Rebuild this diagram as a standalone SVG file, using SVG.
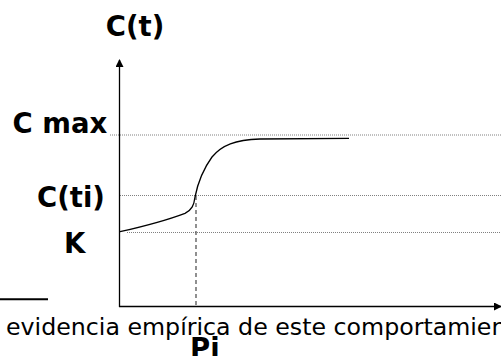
<svg xmlns="http://www.w3.org/2000/svg" width="501" height="356" viewBox="0 0 501 356">
<style>
.lbl{font-family:"DejaVu Sans",Verdana,sans-serif;font-weight:bold;font-size:27.5px;fill:#000}
.txt{font-family:"DejaVu Sans",Verdana,sans-serif;font-size:23.7px;fill:#000}
.dot{stroke:#808080;stroke-width:1;stroke-dasharray:1,1;fill:none}
.axis{stroke:#000;stroke-width:1.3;fill:none}
</style>
<defs>
<marker id="arr" markerWidth="8" markerHeight="8" refX="7" refY="4" orient="auto" markerUnits="userSpaceOnUse">
<path d="M0,0 L8,4 L0,8 Z" fill="#000"/>
</marker>
</defs>
<rect width="501" height="356" fill="#fff"/>
<g id="gridlines">
<line class="dot" x1="110" y1="135" x2="501" y2="135"/>
<line class="dot" x1="120" y1="195.5" x2="501" y2="195.5"/>
<line class="dot" x1="127" y1="232.5" x2="501" y2="232.5"/>
</g>
<g id="connectors">
<line class="axis" x1="119.5" y1="307" x2="119.5" y2="60" marker-end="url(#arr)"/>
<line class="axis" x1="119" y1="306.5" x2="501" y2="306.5" marker-end="url(#arr)"/>
<line x1="196" y1="196" x2="196" y2="307" stroke="#555" stroke-width="1.3" stroke-dasharray="4,3"/>
<path d="M120,231.7 C145,226 170,219 185,213.3 C192,210 194,205 195,197 C198,182 204,168 212,157 C222,145 235,140 260,139 L349,138.3" fill="none" stroke="#000" stroke-width="1.3"/>
<line x1="0" y1="299.3" x2="48" y2="299.3" stroke="#000" stroke-width="2"/>
</g>
<g id="labels">
<text class="lbl" x="135" y="36" text-anchor="middle">C(t)</text>
<text class="lbl" x="12.5" y="133">C max</text>
<text class="lbl" x="37" y="207">C(ti)</text>
<text class="lbl" x="64" y="252.5">K</text>
<text class="lbl" x="190" y="358">Pi</text>
<text class="txt" x="6" y="335">evidencia empírica de este comportamiento</text>
</g>
</svg>
